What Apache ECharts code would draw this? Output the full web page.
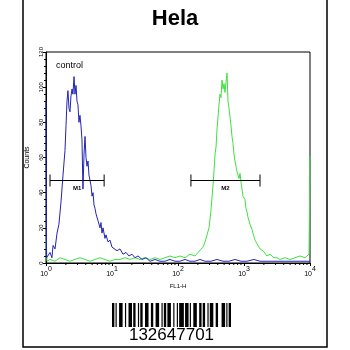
<!DOCTYPE html>
<html>
<head>
<meta charset="utf-8">
<script src="https://cdn.jsdelivr.net/npm/echarts@6/dist/echarts.min.js"></script>
<style>
  html, body { margin: 0; padding: 0; background: #fff; }
  #chart { width: 350px; height: 350px; }
</style>
</head>
<body>
<div id="chart"></div>
<script>
// Histogram of FL1-H fluorescence: [channel value, counts]
const controlSeries = [
  [1, 92], [1.02, 3], [1.07, 4], [1.15, 6], [1.23, 3], [1.28, 10], [1.37, 8], [1.47, 17],
  [1.57, 22], [1.69, 35], [1.81, 50], [1.94, 64], [2.01, 78], [2.08, 92], [2.15, 98],
  [2.23, 88], [2.31, 86], [2.39, 95], [2.48, 99], [2.56, 96], [2.66, 106], [2.75, 96],
  [2.85, 101], [2.95, 92], [3.05, 90], [3.16, 80], [3.27, 84], [3.39, 78], [3.51, 70],
  [3.63, 42], [3.77, 62], [3.90, 72], [4.04, 60], [4.18, 55], [4.33, 58], [4.48, 50],
  [4.64, 47], [4.81, 44], [4.98, 38], [5.16, 40], [5.34, 33], [5.53, 31], [5.72, 28],
  [5.93, 29], [6.14, 24], [6.35, 25], [6.58, 20], [6.81, 23], [7.05, 17], [7.31, 20],
  [7.83, 14], [8.11, 16], [8.70, 12], [9.33, 13], [10, 9], [10.7, 10], [11.9, 7],
  [13.2, 8], [14.7, 5], [16.3, 6], [18.1, 4], [20.1, 5], [22.3, 3], [24.8, 4], [28.5, 2],
  [32.7, 3], [37.7, 1], [44.9, 2], [53.4, 1], [63.5, 1], [75.6, 2], [90, 1], [107, 1],
  [128, 2], [152, 1], [181, 1], [215, 2], [257, 1], [316, 1], [390, 2], [481, 1],
  [593, 1], [730, 2], [901, 1], [1110, 1], [1418, 2], [1748, 1], [2230, 1], [2848, 1],
  [3511, 1], [4977, 1], [7050, 1], [10000, 1]
];

const helaSeries = [
  [1, 13], [1.035, 1], [1.15, 2], [1.37, 1], [1.63, 3], [1.94, 2], [2.31, 1], [2.75, 2],
  [3.27, 3], [3.90, 2], [4.64, 1], [5.53, 2], [6.58, 3], [7.83, 2], [9.33, 1], [11.1, 2],
  [13.2, 2], [15.7, 3], [18.7, 2], [22.3, 3], [26.6, 2], [31.6, 3], [37.7, 2], [44.9, 3],
  [53.4, 2], [63.5, 3], [75.6, 4], [90.1, 3], [107, 4], [128, 3], [152, 5], [181, 4],
  [201, 6], [215, 7], [239, 9], [257, 12], [275, 13], [295, 20], [316, 30], [327, 37],
  [339, 44], [351, 52], [364, 62], [377, 66], [390, 76], [404, 83], [418, 90], [433, 96],
  [448, 94], [464, 104], [481, 99], [498, 102], [515, 97], [534, 103], [553, 108],
  [572, 92], [593, 88], [614, 83], [636, 78], [658, 72], [681, 68], [705, 62], [730, 58],
  [756, 55], [783, 52], [811, 51], [840, 48], [870, 51], [901, 46], [933, 45], [966, 38],
  [1000, 39], [1035, 36], [1072, 31], [1110, 29], [1150, 26], [1191, 24], [1233, 22],
  [1322, 19], [1418, 15], [1468, 13], [1574, 11], [1748, 8], [1941, 7], [2230, 4],
  [2477, 5], [2848, 3], [3162, 3], [3511, 2], [4181, 3], [4977, 2], [5929, 3], [7050, 4],
  [8394, 3], [9660, 5], [10000, 61]
];

// Gate markers: name, lower and upper channel, count level
const gateNames = ['M1', 'M2'];
const gateFrom = [1.15, 157];
const gateTo = [7.6, 1748];
const gateLevel = [47, 47];

// Axis setup
const yTicks = [0, 20, 40, 60, 80, 100, 120];
const xDecades = [1, 10, 100, 1000, 10000];
const minorMultipliers = [2, 3, 4, 5, 6, 7, 8, 9];

// Sample barcode (Code 128 style modules, 1 = bar)
const barcodeText = '132647701';
const barcodeModules =
  '11010011100' + '10011101100' + '10110011100' + '11001110010' +
  '11011100100' + '10111101110' + '10011100110' + '11001011100' +
  '1100011101011';

const FONT = 'Liberation Sans, Arial, sans-serif';

// Runs of consecutive bar modules -> [start, length]
const barRuns = [];
for (let i = 0; i < barcodeModules.length; ) {
  if (barcodeModules[i] === '1') {
    let j = i;
    while (j < barcodeModules.length && barcodeModules[j] === '1') j++;
    barRuns.push([i, j - i]);
    i = j;
  } else {
    i++;
  }
}

// Logarithmic minor tick positions inside each decade
const minorTickData = [];
for (let d = 0; d < xDecades.length - 1; d++) {
  for (const m of minorMultipliers) minorTickData.push([xDecades[d] * m, 0]);
}

const gateData = gateNames.map((n, i) => [gateFrom[i], gateTo[i], gateLevel[i], n]);

const chart = echarts.init(document.getElementById('chart'), null, { renderer: 'canvas' });

chart.setOption({
  animation: false,
  backgroundColor: '#fff',
  title: {
    text: 'Hela',
    left: 'center',
    top: 3,
    textStyle: { fontFamily: FONT, fontSize: 22, fontWeight: 'bold', color: '#000' }
  },
  grid: [
    { left: 46, top: 52, right: 40, bottom: 87, show: true, borderColor: '#000', borderWidth: 1, backgroundColor: 'transparent' },
    { left: 112, top: 303, width: 119, height: 24 }
  ],
  xAxis: [
    {
      type: 'log',
      logBase: 10,
      min: xDecades[0],
      max: xDecades[xDecades.length - 1],
      gridIndex: 0,
      name: 'FL1-H',
      nameLocation: 'middle',
      nameGap: 17,
      nameTextStyle: { fontFamily: FONT, fontSize: 6, color: '#000' },
      axisLine: { show: true, lineStyle: { color: '#000', width: 1 } },
      axisTick: { show: true, inside: false, length: 3, lineStyle: { color: '#000' } },
      splitLine: { show: false },
      axisLabel: {
        margin: 3,
        formatter: function (v) {
          return '{b|10}{e|' + Math.round(Math.log10(v)) + '}';
        },
        rich: {
          b: { fontFamily: FONT, fontSize: 7, color: '#000', verticalAlign: 'bottom' },
          e: { fontFamily: FONT, fontSize: 7, color: '#000', verticalAlign: 'bottom', padding: [0, 0, 5, 0] }
        }
      }
    },
    { type: 'value', gridIndex: 1, min: 0, max: barcodeModules.length, show: false }
  ],
  yAxis: [
    {
      type: 'value',
      gridIndex: 0,
      min: yTicks[0],
      max: yTicks[yTicks.length - 1],
      interval: 20,
      name: 'Counts',
      nameLocation: 'middle',
      nameGap: 15,
      nameTextStyle: { fontFamily: FONT, fontSize: 7, color: '#000' },
      axisLine: { show: true, lineStyle: { color: '#000', width: 1 } },
      axisTick: { show: true, inside: false, length: 3, lineStyle: { color: '#000' } },
      minorTick: { show: true, splitNumber: 5, length: 2, lineStyle: { color: '#000' } },
      splitLine: { show: false },
      axisLabel: { rotate: 90, margin: 2, fontFamily: FONT, fontSize: 6, color: '#000' }
    },
    { type: 'value', gridIndex: 1, min: 0, max: 1, show: false }
  ],
  series: [
    {
      name: 'Hela',
      type: 'line',
      data: helaSeries,
      showSymbol: false,
      lineStyle: { color: '#3fe03f', width: 1 },
      z: 3
    },
    {
      name: 'control',
      type: 'line',
      data: controlSeries,
      showSymbol: false,
      lineStyle: { color: '#2323b4', width: 1 },
      z: 4
    },
    {
      name: 'minor ticks',
      type: 'custom',
      data: minorTickData,
      silent: true,
      z: 5,
      renderItem: function (params, api) {
        const p = api.coord([api.value(0), 0]);
        return {
          type: 'line',
          shape: { x1: p[0], y1: p[1], x2: p[0], y2: p[1] + 2 },
          style: { stroke: '#000', lineWidth: 1 }
        };
      }
    },
    {
      name: 'gates',
      type: 'custom',
      data: gateData,
      silent: true,
      z: 6,
      renderItem: function (params, api) {
        const a = api.coord([api.value(0), api.value(2)]);
        const b = api.coord([api.value(1), api.value(2)]);
        const y = Math.round(a[1]) + 0.5;
        const style = { stroke: '#000', lineWidth: 1 };
        return {
          type: 'group',
          children: [
            { type: 'line', shape: { x1: a[0], y1: y, x2: b[0], y2: y }, style: style },
            { type: 'line', shape: { x1: a[0], y1: y - 6, x2: a[0], y2: y + 6 }, style: style },
            { type: 'line', shape: { x1: b[0], y1: y - 6, x2: b[0], y2: y + 6 }, style: style },
            {
              type: 'text',
              x: (a[0] + b[0]) / 2,
              y: y + 8,
              style: {
                text: gateNames[params.dataIndex],
                fontFamily: FONT, fontSize: 6, fontWeight: 'bold', fill: '#000',
                align: 'center', verticalAlign: 'middle'
              }
            }
          ]
        };
      }
    },
    {
      name: 'barcode',
      type: 'custom',
      xAxisIndex: 1,
      yAxisIndex: 1,
      data: barRuns,
      silent: true,
      renderItem: function (params, api) {
        const s = api.value(0), w = api.value(1);
        const p0 = api.coord([s, 1]);
        const p1 = api.coord([s + w, 0]);
        return {
          type: 'rect',
          shape: { x: p0[0], y: p0[1], width: p1[0] - p0[0], height: p1[1] - p0[1] },
          style: { fill: '#000' }
        };
      }
    }
  ],
  graphic: [
    {
      type: 'rect',
      shape: { x: 23, y: -5, width: 304, height: 352 },
      style: { fill: 'none', stroke: '#000', lineWidth: 1.5 },
      silent: true
    },
    {
      type: 'text',
      x: 56, y: 66,
      style: { text: 'control', fontFamily: FONT, fontSize: 9, fill: '#000', verticalAlign: 'middle' }
    },
    {
      type: 'text',
      x: 171.5, y: 335,
      style: { text: barcodeText, fontFamily: FONT, fontSize: 17, fill: '#000', align: 'center', verticalAlign: 'middle' }
    }
  ]
});
</script>
</body>
</html>
